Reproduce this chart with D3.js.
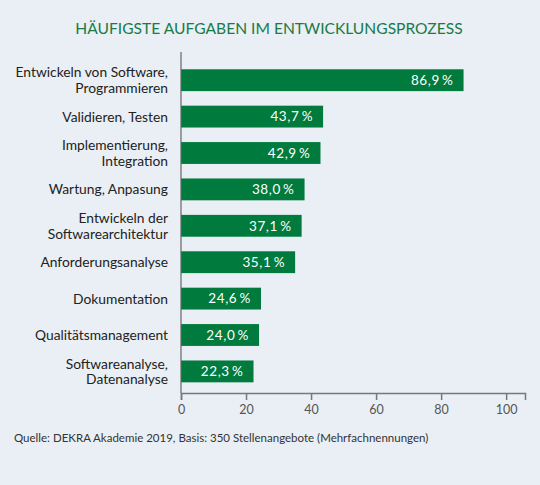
<!DOCTYPE html>
<html>
<head>
<meta charset="utf-8">
<script src="https://cdn.jsdelivr.net/npm/d3@7"></script>
<style>
  body { margin: 0; background: #e9eff4; }
  svg { display: block; }
  text { font-family: "Lato", "Open Sans", sans-serif; }
</style>
</head>
<body>
<div id="chart"></div>
<script>
// data
var categories = [
  ["Entwickeln von Software,", "Programmieren"],
  ["Validieren, Testen"],
  ["Implementierung,", "Integration"],
  ["Wartung, Anpasung"],
  ["Entwickeln der", "Softwarearchitektur"],
  ["Anforderungsanalyse"],
  ["Dokumentation"],
  ["Qualitätsmanagement"],
  ["Softwareanalyse,", "Datenanalyse"]
];
var values = [86.9, 43.7, 42.9, 38.0, 37.1, 35.1, 24.6, 24.0, 22.3];
var xTicks = [0, 20, 40, 60, 80, 100];

var w = 540, h = 485;
var green = "#007a3d";

var svg = d3.select("#chart")
  .append("svg")
  .attr("width", w)
  .attr("height", h);

svg.append("rect")
  .attr("width", w)
  .attr("height", h)
  .attr("fill", "#e9eff4");

// title
svg.append("text")
  .attr("x", 269)
  .attr("y", 34)
  .attr("text-anchor", "middle")
  .attr("font-size", "15.6px")
  .attr("fill", "#1a7a48")
  .text("HÄUFIGSTE AUFGABEN IM ENTWICKLUNGSPROZESS");

var x = d3.scaleLinear().domain([0, 105.8]).range([181, 525]);
var y = d3.scaleBand()
  .domain(d3.range(values.length))
  .range([62, 389.6])
  .paddingInner(0.4)
  .paddingOuter(0.2);

// bars
var groups = svg.selectAll("g.bar")
  .data(values)
  .enter()
  .append("g")
  .attr("class", "bar");

groups.append("rect")
  .attr("x", x(0))
  .attr("y", function(d, i) { return y(i); })
  .attr("width", function(d) { return x(d) - x(0); })
  .attr("height", y.bandwidth())
  .attr("fill", green);

groups.append("text")
  .attr("x", function(d) { return x(d) - 10; })
  .attr("y", function(d, i) { return y(i) + y.bandwidth() / 2; })
  .attr("dy", "0.36em")
  .attr("text-anchor", "end")
  .attr("font-size", "13.5px")
  .attr("fill", "#fff")
  .attr("letter-spacing", "0.6px")
  .text(function(d) { return d.toFixed(1).replace(".", ",") + "\u2009%"; });

// category labels
groups.each(function(d, i) {
  var lines = categories[i];
  var t = d3.select(this).append("text")
    .attr("text-anchor", "end")
    .attr("font-size", "13.8px")
    .attr("fill", "#222");
  var cy = y(i) + y.bandwidth() / 2;
  var lh = 15.5;
  for (var k = 0; k < lines.length; k++) {
    t.append("tspan")
      .attr("x", 168)
      .attr("y", cy + (k - (lines.length - 1) / 2) * lh)
      .attr("dy", "0.36em")
      .text(lines[k]);
  }
});

// y axis line
svg.append("line")
  .attr("x1", x(0)).attr("x2", x(0))
  .attr("y1", 52).attr("y2", 393)
  .attr("stroke", "#666")
  .attr("stroke-width", 1.2);

// x axis
var xAxis = d3.axisBottom(x)
  .tickValues(xTicks)
  .tickSize(7)
  .tickPadding(5);

var ax = svg.append("g")
  .attr("transform", "translate(0,393)")
  .call(xAxis);

ax.select(".domain")
  .attr("stroke", "#777")
  .attr("stroke-width", 1.5);
ax.selectAll(".tick line")
  .attr("stroke", "#777")
  .attr("stroke-width", 1.5);
ax.selectAll(".tick text")
  .attr("font-size", "12.5px")
  .attr("font-family", "Lato, sans-serif")
  .attr("fill", "#555");

// source
svg.append("text")
  .attr("x", 14)
  .attr("y", 442)
  .attr("font-size", "11.5px")
  .attr("fill", "#333")
  .text("Quelle: DEKRA Akademie 2019, Basis: 350 Stellenangebote (Mehrfachnennungen)");
</script>
</body>
</html>
